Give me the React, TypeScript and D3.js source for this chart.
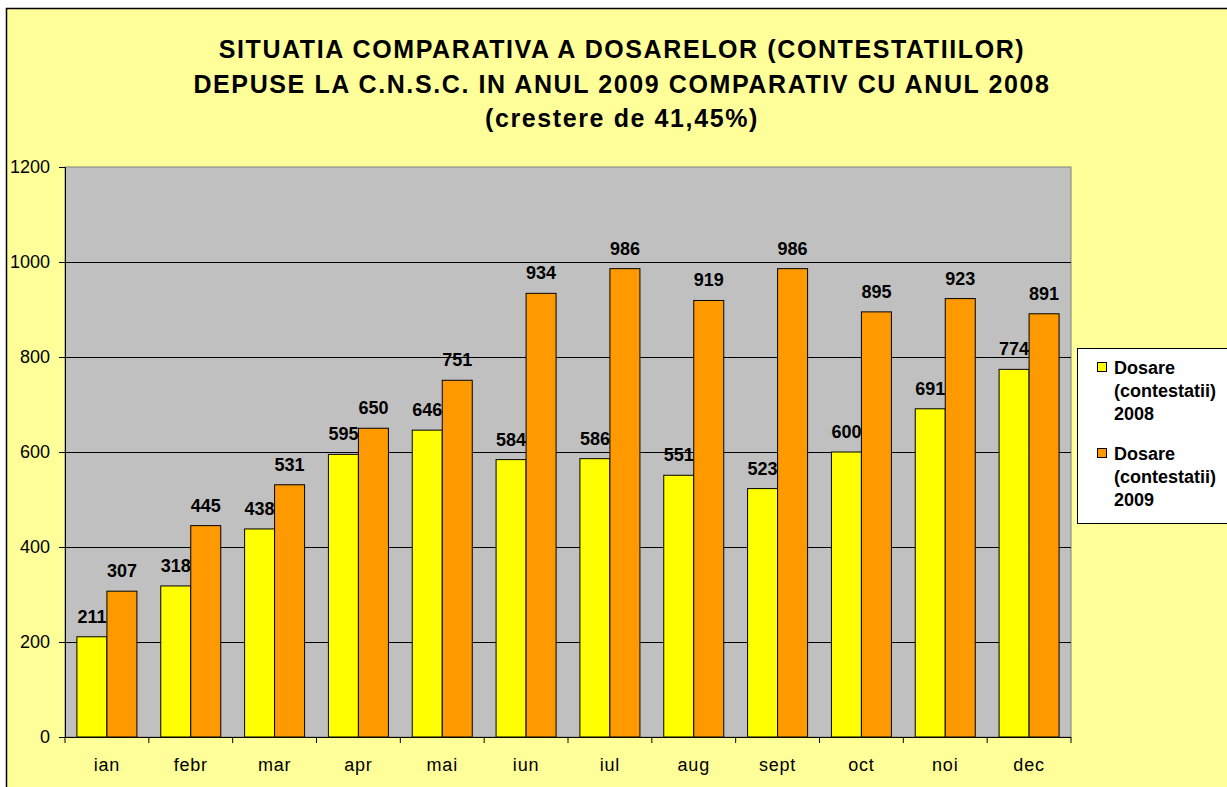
import React, { useRef, useEffect } from "react";
import * as d3 from "d3";

const months = ["ian", "febr", "mar", "apr", "mai", "iun", "iul", "aug", "sept", "oct", "noi", "dec"];
const values2008 = [211, 318, 438, 595, 646, 584, 586, 551, 523, 600, 691, 774];
const values2009 = [307, 445, 531, 650, 751, 934, 986, 919, 986, 895, 923, 891];
const yTicks = [0, 200, 400, 600, 800, 1000, 1200];
const titleLines = [
  "SITUATIA COMPARATIVA A DOSARELOR (CONTESTATIILOR)",
  "DEPUSE LA C.N.S.C. IN ANUL 2009 COMPARATIV CU ANUL 2008",
  "(crestere de 41,45%)",
];
const legendLines = [
  ["Dosare", "(contestatii)", "2008"],
  ["Dosare", "(contestatii)", "2009"],
];
const seriesColors = ["#FFFF00", "#FF9900"];

export default function App() {
  const ref = useRef<SVGSVGElement>(null);

  useEffect(() => {
    const svg = d3.select(ref.current);
    svg.selectAll("*").remove();
    const font = "'Liberation Sans', Arial, sans-serif";

    // chart background
    svg.append("rect").attr("x", 6.5).attr("y", 8.5).attr("width", 1240).attr("height", 800)
      .attr("fill", "#FFFF99").attr("stroke", "#000").attr("stroke-width", 1.5);

    // title
    const tys = [58, 93, 127];
    titleLines.forEach((t, i) => {
      svg.append("text").attr("x", 622).attr("y", tys[i]).attr("text-anchor", "middle")
        .attr("font-family", font).attr("font-weight", "bold").attr("font-size", 25)
        .attr("letter-spacing", 1.6).text(t);
    });

    const left = 65, right = 1071, top = 167, bottom = 737;
    const x = d3.scaleBand<string>().domain(months).range([left, right]).paddingInner(0).paddingOuter(0);
    const y = d3.scaleLinear().domain([0, 1200]).range([bottom, top]);

    svg.append("rect").attr("x", left).attr("y", top).attr("width", right - left).attr("height", bottom - top)
      .attr("fill", "#C0C0C0").attr("stroke", "#808080").attr("stroke-width", 1);

    // gridlines
    svg.selectAll("line.grid").data(yTicks.filter((d) => d > 0 && d < 1200)).enter().append("line")
      .attr("x1", left).attr("x2", right).attr("y1", (d) => y(d) + 0.5).attr("y2", (d) => y(d) + 0.5)
      .attr("stroke", "#000").attr("stroke-width", 1);

    const bw = 30;
    const groupW = bw * 2;
    const series = [values2008, values2009];
    series.forEach((vals, si) => {
      const g = svg.append("g");
      g.selectAll("rect").data(vals).enter().append("rect")
        .attr("x", (_d, i) => x(months[i])! + (x.bandwidth() - groupW) / 2 + si * bw)
        .attr("y", (d) => y(d))
        .attr("width", bw)
        .attr("height", (d) => bottom - y(d))
        .attr("fill", seriesColors[si]).attr("stroke", "#000").attr("stroke-width", 1);
      g.selectAll("text").data(vals).enter().append("text")
        .attr("x", (_d, i) => x(months[i])! + (x.bandwidth() - groupW) / 2 + si * bw + bw / 2)
        .attr("y", (d) => y(d) - 14)
        .attr("text-anchor", "middle").attr("font-family", font).attr("font-weight", "bold")
        .attr("font-size", 18).text((d) => d);
    });

    // y axis
    const yAxis = svg.append("g").attr("transform", `translate(${left},0)`)
      .call(d3.axisLeft(y).tickValues(yTicks).tickFormat(d3.format("d")).tickSize(6).tickPadding(9));
    yAxis.select(".domain").attr("stroke", "#000");
    yAxis.selectAll(".tick line").attr("stroke", "#000");
    yAxis.selectAll("text").attr("font-family", font).attr("font-size", 18).attr("fill", "#000");

    // x axis
    svg.append("line").attr("x1", left).attr("x2", right).attr("y1", bottom + 0.5).attr("y2", bottom + 0.5)
      .attr("stroke", "#000");
    const bounds = d3.range(months.length + 1).map((i) => left + i * x.step());
    svg.selectAll("line.xt").data(bounds).enter().append("line")
      .attr("x1", (d) => d).attr("x2", (d) => d).attr("y1", bottom).attr("y2", bottom + 6).attr("stroke", "#000");
    svg.selectAll("text.xl").data(months).enter().append("text")
      .attr("x", (d) => x(d)! + x.bandwidth() / 2).attr("y", bottom + 34)
      .attr("text-anchor", "middle").attr("font-family", font).attr("font-size", 18)
      .attr("letter-spacing", 0.8).text((d) => d);

    // legend
    const lg = svg.append("g");
    lg.append("rect").attr("x", 1077.5).attr("y", 348.5).attr("width", 160).attr("height", 175)
      .attr("fill", "#fff").attr("stroke", "#000");
    legendLines.forEach((words, i) => {
      const baseY = 374 + i * 86;
      lg.append("rect").attr("x", 1097.5).attr("y", baseY - 11.5).attr("width", 9).attr("height", 9)
        .attr("fill", seriesColors[i]).attr("stroke", "#000");
      words.forEach((w, j) => {
        lg.append("text").attr("x", 1114).attr("y", baseY + j * 23).attr("font-family", font)
          .attr("font-weight", "bold").attr("font-size", 18).text(w);
      });
    });
  }, []);

  return (
    <svg ref={ref} width={1227} height={787} style={{ position: "absolute", left: 0, top: 0 }} />
  );
}
